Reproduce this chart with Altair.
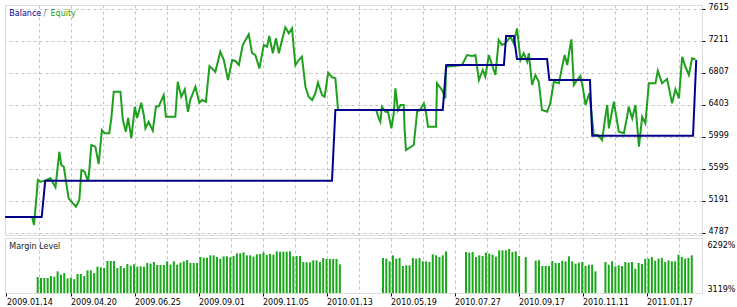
import json
import altair as alt
import pandas as pd

# ---------------- data ----------------
# Equity curve (position along the record axis, account equity)
eq_pos = [-0.4, 8.0, 8.6, 9.0, 9.8, 10.6, 12.1, 13.7, 15.3, 16.5,
          17.1, 17.9, 19.4, 21.7, 22.75, 23.4, 24.4, 25.5, 25.9, 26.5,
          27.75, 28.8, 29.8, 30.7, 32.1, 32.75, 33.5, 35.6, 36.3, 36.6,
          37.3, 38.0, 39.0, 40.1, 40.8, 42.1, 42.9, 43.4, 44.4, 45.7,
          46.7, 47.6, 49.1, 49.8, 52.75, 53.5, 54.6, 55.7, 56.7, 57.4,
          59.0, 60.25, 61.1, 62.3, 63.4, 65.25, 66.8, 67.9, 69.2, 70.5,
          71.5, 72.6, 73.8, 75.7, 76.7, 77.75, 79.0, 80.4, 81.4, 82.1,
          83.2, 84.2, 85.1, 86.1, 87.1, 88.2, 89.2, 90.25, 91.3, 92.3,
          93.4, 94.4, 95.5, 96.5, 97.3, 98.6, 99.4, 100.5, 101.7, 102.75,
          103.6, 115.5, 116.3, 116.8, 117.3, 118.4, 119.2, 120.25, 121.0, 121.5,
          122.3, 123.1, 124.1, 124.4, 124.8, 127.25, 128.3, 129.2, 130.4, 131.1,
          131.7, 134.2, 134.5, 136.1, 137.1, 137.3, 142.3, 143.9, 145.5, 146.5,
          147.6, 148.8, 149.6, 150.7, 151.7, 152.75, 153.8, 154.8, 155.9, 157.4,
          158.5, 159.5, 160.6, 161.6, 162.7, 163.2, 164.2, 165.25, 166.3, 167.3,
          168.9, 169.9, 171.0, 172.6, 173.6, 174.4, 175.2, 175.9, 176.5, 177.25,
          178.3, 179.3, 180.1, 180.9, 182.1, 183.0, 183.5, 184.8, 186.1, 187.1,
          187.7, 188.2, 189.75, 191.3, 192.9, 193.9, 194.4, 195.5, 196.5, 197.6,
          198.6, 199.6, 200.7, 202.75, 203.5, 204.8, 206.4, 207.95, 209.0, 210.1,
          211.1, 212.1, 213.2, 214.2, 215.25]
eq_val = [4989, 4989, 4888, 5077, 5456, 5435, 5447, 5481, 5364, 5813,
          5646, 5624, 5225, 5119, 5204, 5582, 5561, 5435, 5591, 5898,
          5877, 5658, 6087, 6046, 6046, 6235, 6571, 6571, 6235, 6172,
          6066, 6239, 5983, 6382, 6239, 6432, 6277, 6109, 6192, 6079,
          6382, 6390, 6529, 6255, 6255, 6697, 6508, 6601, 6318, 6466,
          6634, 6432, 6466, 6445, 6895, 6823, 7076, 6971, 6719, 6971,
          6959, 6908, 7161, 7296, 7060, 7034, 6866, 7161, 7139, 7274,
          7056, 7245, 7056, 7224, 7384, 7308, 7371, 6908, 6971, 7013,
          6634, 6508, 6466, 6551, 6685, 6529, 6508, 6811, 6753, 6740,
          6340, 6340, 6235, 6192, 6382, 6318, 6315, 6109, 6298, 6614,
          6340, 6403, 6403, 6087, 5835, 5898, 6318, 6340, 6424, 6298,
          6129, 6129, 6677, 6592, 6488, 6887, 6908, 7034, 7022, 7034,
          6719, 6845, 6760, 7034, 6908, 6782, 7224, 7161, 7182, 7265,
          7182, 7371, 6971, 7056, 6950, 7056, 6656, 6782, 6697, 6340,
          6318, 6424, 6697, 6677, 6887, 7034, 6908, 7097, 7232, 6656,
          6719, 6769, 6614, 6403, 6551, 6214, 6024, 6024, 5961, 6255,
          6403, 6109, 6445, 6066, 6046, 6255, 6382, 6235, 6403, 5877,
          6255, 6172, 6677, 6677, 6836, 6677, 6731, 6424, 6601, 6488,
          7013, 6887, 6782, 6993, 6980]

# Balance (step curve)
bal_pos = [-0.4, 11.0, 12.1, 101.7, 102.75, 136.3, 137.4, 155.4, 156.1, 158.5,
           159.5, 168.9, 169.6, 182.3, 183.0, 214.5, 215.5]
bal_val = [4989, 4989, 5447, 5447, 6340, 6340, 6908, 6908, 7274, 7274,
           6984, 6984, 6719, 6719, 6015, 6015, 6971]

# Margin level (%) per record; None = no open position
lvl_c1 = [3352, 3247, 3247, 3247, 3457, 3387, 3947, 3597, 3772, 3212,
          3282, 3119, 3667, 3667, 3457, 4052, 4052, 3772, 4437, 4367,
          4297, 5032, 5032, 5032, 4297, 4507, 4297, 4717, 4542, 4682,
          4437, 4472, 4437, 4822, 4752, 4927, 4612, 4612, 4612, 4997,
          4647, 4997, 4647, 4857, 4997, 5137, 4822, 4822, 4822, 5452,
          5382, 5382, 5627, 5627, 5452, 5277, 5522, 5522, 5417, 5557,
          5837, 5837, 5942, 5627, 5627, 5487, 5732, 5767, 5942, 5662,
          5767, 5697, 6047, 6012, 6012, 6012, 6047, 5522, 5557, 5557,
          4927, 4892, 4892, 5102, 5102, 4927, 5347, 5242, 5242, 5242,
          5242, 4682]
lvl_c2 = [5347, 5277, 4997, 5627, 5277, 5347, 4507, 4577, 4577, 5347,
          5277, 5347, 4997, 4997, 4927, 5732, 5627, 5452, 5627, 6047]
lvl_c3 = [5977, 5907, 5977, 5452, 5627, 5557, 5907, 5802, 5697, 5487,
          6152, 6152, 6152, 6292, 5977, 6047, 5557]
lvl_c4 = [5452]
lvl_c5 = [5067, 5102, 4507, 4507, 4507, 5032, 4822, 4822, 5067, 4997,
          5522, 4997, 4752, 4857, 4927, 4507, 4647, 4647, 3947]
lvl_c6 = [4927, 4647, 4997, 4472, 4577, 4507, 4927, 4857, 4927, 4227,
          4822, 4717, 5277, 5277, 5452, 5067, 5277, 5347, 4927, 5102,
          4997, 4997, 5697, 5452, 5277, 5347, 5627]
margin_level = (lvl_c1 + [None] * 12 + lvl_c2 + [None] * 5 + lvl_c3 + [None]
                + lvl_c4 + [None] * 2 + lvl_c5 + [None] * 2 + lvl_c6)
level_max_label = "6292%"
level_min_label = "3119%"

y_ticks = [4787, 5191, 5595, 5999, 6403, 6807, 7211, 7615]
date_labels = ["2009.01.14", "2009.04.20", "2009.06.25", "2009.09.01", "2009.11.05",
               "2010.01.13", "2010.05.19", "2010.07.27", "2010.09.17", "2010.11.11",
               "2011.01.17"]

# ---------------- styling / layout ----------------
FONT = "DejaVu Sans"
W = 697
H_MAIN = 230
H_LVL = 55
GREEN = "#1EA01E"
BAR_GREEN = "#19A819"
NAVY = "#00008B"
GRID = "#C4C4C4"

# bottom panel: record index axis
BAR0_PX = 32.7      # first record, px from panel left
BAR_STEP = 3.32     # px per record
lvl_domain = [-BAR0_PX / BAR_STEP, (W - BAR0_PX) / BAR_STEP]
lab_vals = [(1.5 + 64 * m - BAR0_PX) / BAR_STEP for m in range(len(date_labels))]
grid_vals = [(33.5 + 32 * k - BAR0_PX) / BAR_STEP for k in range(21)]
L0 = lab_vals[0]
S = 64 / BAR_STEP
idx = f"round((datum.value - ({L0}))/{S})"
is_lab = f"abs((datum.value - ({L0}))/{S} - {idx}) < 0.01"
label_expr = f"{is_lab} ? {json.dumps(date_labels)}[{idx}] : ''"

eq_df = pd.DataFrame({"pos": eq_pos, "value": eq_val, "order": list(range(len(eq_pos)))})
bal_df = pd.DataFrame({"pos": bal_pos, "value": bal_val, "order": list(range(len(bal_pos)))})
lvl_df = pd.DataFrame({"rec": list(range(len(margin_level))), "level": margin_level}).dropna()

x_main = alt.X("pos:Q", scale=alt.Scale(domain=[-0.47, 217.3], nice=False, zero=False, padding=0),
               axis=alt.Axis(values=list(range(10, 220, 10)), labels=False, ticks=False,
                             domain=False, grid=True, gridColor=GRID, gridDash=[3, 3],
                             title=None))
y_axis_main = alt.Axis(orient="right", values=y_ticks, grid=True, gridColor=GRID,
                       gridDash=[3, 3], domain=False, ticks=True, tickColor="black",
                       tickSize=3, labelPadding=3, labelBaseline="alphabetic",
                       labelFont=FONT, labelFontSize=8, labelColor="black",
                       format="d", title=None, labelOverlap=False, labelFlush=False)
y_scale_main = alt.Scale(domain=[4762, 7665.75], nice=False, zero=False)

equity = alt.Chart(eq_df).mark_line(color=GREEN, strokeWidth=2).encode(
    x=x_main, y=alt.Y("value:Q", scale=y_scale_main, axis=y_axis_main), order="order:Q")
balance = alt.Chart(bal_df).mark_line(color=NAVY, strokeWidth=2).encode(
    x=x_main, y=alt.Y("value:Q", scale=y_scale_main, axis=y_axis_main), order="order:Q")

leg_df = pd.DataFrame({"t": ["Balance", "/", "Equity"], "c": [NAVY, "#707080", GREEN],
                       "px": [4.3, 38.5, 45.5]})
legend = alt.Chart(leg_df).mark_text(align="left", baseline="middle", font=FONT,
                                     fontSize=8).encode(
    x=alt.X("px:Q", scale=None), y=alt.value(9), text="t:N",
    color=alt.Color("c:N", scale=None))

main = alt.layer(equity, balance, legend).properties(width=W, height=H_MAIN)

lvl_scale = alt.Scale(domain=[1672, 7447], nice=False, zero=False)
bars = alt.Chart(lvl_df).mark_bar(size=2, color=BAR_GREEN).encode(
    x=alt.X("rec:Q", scale=alt.Scale(domain=lvl_domain, nice=False, zero=False, padding=0),
            axis=alt.Axis(values=sorted(lab_vals + grid_vals), grid=True, gridColor=GRID,
                          gridDash=[3, 3],
                          gridOpacity={"condition": {"test": f"datum.value < {L0 + 0.5}", "value": 0}, "value": 1},
                          tickOpacity={"condition": {"test": is_lab, "value": 1}, "value": 0},
                          tickColor="black", tickSize=3, domain=False,
                          labelExpr=label_expr, labelAlign="left", labelBaseline="top",
                          labelPadding=2, labelFont=FONT, labelFontSize=8,
                          labelColor="black", labelOverlap=False, labelFlush=False,
                          title=None)),
    y=alt.Y("level:Q", scale=lvl_scale,
            axis=alt.Axis(orient="right", values=[6712, 2092], ticks=False, domain=False,
                          grid=False,
                          labelExpr=f"datum.value > 4000 ? '{level_max_label}' : '{level_min_label}'",
                          labelPadding=5, labelFont=FONT, labelFontSize=8,
                          labelColor="black", labelOverlap=False, title=None)),
    y2=alt.datum(1672))

lvl_title = alt.Chart(pd.DataFrame({"t": ["Margin Level"]})).mark_text(
    align="left", baseline="middle", font=FONT, fontSize=8, color="#202020").encode(
    x=alt.value(4.3), y=alt.value(9), text="t:N")

lower = alt.layer(bars, lvl_title).properties(width=W, height=H_LVL)

chart = (alt.vconcat(main, lower, spacing=1)
         .resolve_scale(x="independent", y="independent", color="independent")
         .properties(padding={"left": 0, "top": 2, "right": 0, "bottom": 0},
                     background="white")
         .configure_view(stroke="black", strokeWidth=1)
         .configure_axis(labelOverlap=False, labelFlush=False)
         .configure(font=FONT))

chart.save("out.html", embed_options={"renderer": "svg", "actions": False})
